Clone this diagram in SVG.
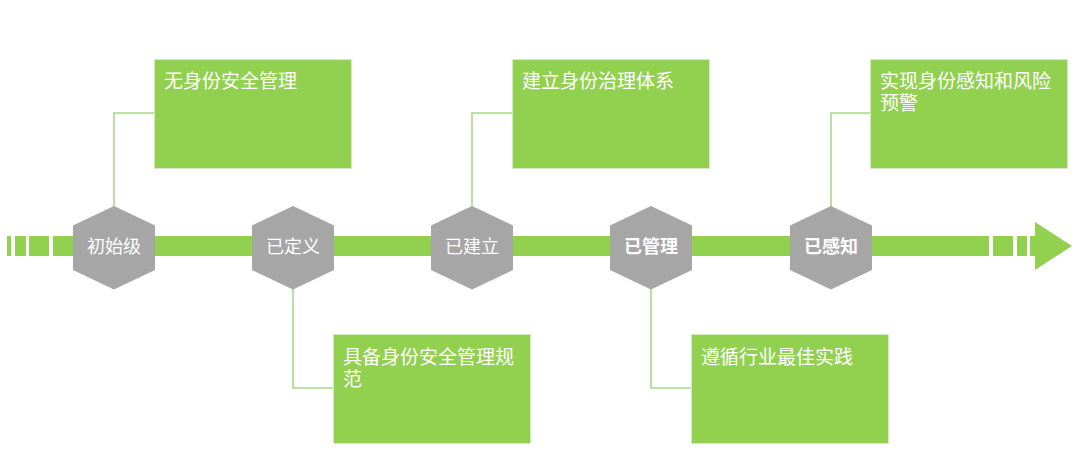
<svg xmlns="http://www.w3.org/2000/svg" width="1080" height="469" viewBox="0 0 1080 469">
<style>
.bar{fill:#92D050}
.hex{fill:#A6A6A6}
.box{fill:#92D050;stroke:#D3EBBE;stroke-width:1}
.conn{fill:none;stroke:#A9D88A;stroke-width:1.6}
.ht{font-family:"Noto Sans CJK SC","Liberation Sans",sans-serif;font-size:18px;fill:#FFFFFF;text-anchor:middle}
.hb{font-weight:bold}
.bt{font-family:"Noto Sans CJK SC","Liberation Sans",sans-serif;font-size:19px;fill:#FFFFFF}
</style>
<rect width="1080" height="469" fill="#FFFFFF"/>
<g id="timeline">
<rect class="bar" x="7" y="236" width="4" height="20"/>
<rect class="bar" x="15" y="236" width="11" height="20"/>
<rect class="bar" x="29" y="236" width="20" height="20"/>
<rect class="bar" x="53" y="236" width="936" height="20"/>
<rect class="bar" x="993" y="236" width="20" height="20"/>
<rect class="bar" x="1017" y="236" width="10" height="20"/>
<rect class="bar" x="1030" y="236" width="7" height="20"/>
<polygon class="bar" points="1035,222 1072,246 1035,270"/>
</g>
<g id="connectors">
<polyline class="conn" points="114,207 114,113 154,113"/>
<polyline class="conn" points="293,288 293,388 333,388"/>
<polyline class="conn" points="472,207 472,113 513,113"/>
<polyline class="conn" points="651,288 651,388 692,388"/>
<polyline class="conn" points="831,207 831,113 871,113"/>
</g>
<g id="node-1">
<polygon class="hex" points="114,206 155,225.5 155,270 114,289.5 73,270 73,225.5"/>
<text class="ht" x="114" y="252.5">初始级</text>
</g>
<g id="node-2">
<polygon class="hex" points="293,206 334,225.5 334,270 293,289.5 252,270 252,225.5"/>
<text class="ht" x="293" y="252.5">已定义</text>
</g>
<g id="node-3">
<polygon class="hex" points="472,206 513,225.5 513,270 472,289.5 431,270 431,225.5"/>
<text class="ht" x="472" y="252.5">已建立</text>
</g>
<g id="node-4">
<polygon class="hex" points="651,206 692,225.5 692,270 651,289.5 610,270 610,225.5"/>
<text class="ht hb" x="651" y="252.5">已管理</text>
</g>
<g id="node-5">
<polygon class="hex" points="831,206 872,225.5 872,270 831,289.5 790,270 790,225.5"/>
<text class="ht hb" x="831" y="252.5">已感知</text>
</g>
<g id="box-1">
<rect class="box" x="154.5" y="59.5" width="197" height="109"/>
<text class="bt" x="164" y="88">无身份安全管理</text>
</g>
<g id="box-2">
<rect class="box" x="333.5" y="334.5" width="197" height="109"/>
<text class="bt" x="343" y="364"><tspan x="343" y="364">具备身份安全管理规</tspan><tspan x="343" y="386">范</tspan></text>
</g>
<g id="box-3">
<rect class="box" x="512.5" y="59.5" width="197" height="109"/>
<text class="bt" x="522" y="88">建立身份治理体系</text>
</g>
<g id="box-4">
<rect class="box" x="691.5" y="334.5" width="197" height="109"/>
<text class="bt" x="701" y="364">遵循行业最佳实践</text>
</g>
<g id="box-5">
<rect class="box" x="870.5" y="59.5" width="197" height="109"/>
<text class="bt" x="880" y="88"><tspan x="880" y="88">实现身份感知和风险</tspan><tspan x="880" y="110">预警</tspan></text>
</g>
</svg>
